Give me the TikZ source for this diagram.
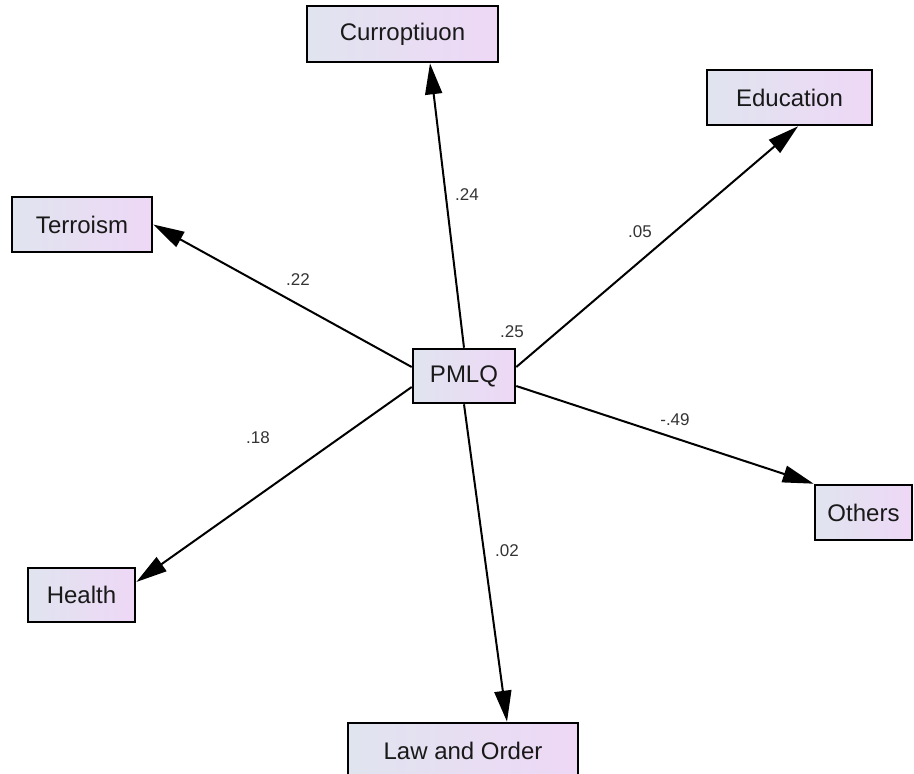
\documentclass[tikz,border=0pt]{standalone}
\usepackage{fontspec}
\setmainfont{Liberation Sans}
\usetikzlibrary{arrows.meta}

\definecolor{boxleft}{HTML}{E0E4EF}
\definecolor{boxright}{HTML}{EED8F6}
\definecolor{labelgray}{HTML}{333333}

\tikzstyle{varbox} = [rectangle, draw=black, line width=2.6pt, left color=boxleft, right color=boxright, inner sep=0pt, text=black!90, font=\fontsize{24}{28}\selectfont]
\tikzstyle{arrow} = [line width=2pt,->,>={Triangle[length=31pt,width=17pt]}]
\tikzstyle{coef} = [text=labelgray, font=\fontsize{17}{20}\selectfont]

\begin{document}
\begin{tikzpicture}[x=1pt,y=-1pt]
\useasboundingbox (0,0) rectangle (914,774);

\node (pmlq) [varbox, minimum width=102pt, minimum height=54pt] at (464,376) {PMLQ};
\node (cor) [varbox, minimum width=191pt, minimum height=56pt] at (402.5,34) {Curroptiuon};
\node (edu) [varbox, minimum width=165pt, minimum height=55pt] at (789.5,97.5) {Education};
\node (ter) [varbox, minimum width=140pt, minimum height=55pt] at (82,224.5) {Terroism};
\node (hea) [varbox, minimum width=107pt, minimum height=54pt] at (81.5,595) {Health};
\node (oth) [varbox, minimum width=97pt, minimum height=55pt] at (863.5,512.5) {Others};
\node (law) [varbox, minimum width=230pt, minimum height=56pt] at (463,751) {Law and Order};

\draw [arrow] (pmlq.north) -- ([xshift=27.5pt]cor.south);
\draw [arrow] ([yshift=9pt]pmlq.east) -- ([xshift=8.5pt]edu.south);
\draw [arrow] ([yshift=9pt]pmlq.west) -- (ter.east);
\draw [arrow] ([yshift=-11pt]pmlq.west) -- ([yshift=13pt]hea.east);
\draw [arrow] ([yshift=-10pt]pmlq.east) -- (oth.north west);
\draw [arrow] (pmlq.south) -- ([xshift=44pt]law.north);

\node (w24) [coef] at (467,195) {.24};
\node (w05) [coef] at (640,232) {.05};
\node (w22) [coef] at (298,280) {.22};
\node (w25) [coef] at (512,332) {.25};
\node (w49) [coef] at (675,420) {-.49};
\node (w18) [coef] at (258,438) {.18};
\node (w02) [coef] at (507,551) {.02};

\end{tikzpicture}
\end{document}
